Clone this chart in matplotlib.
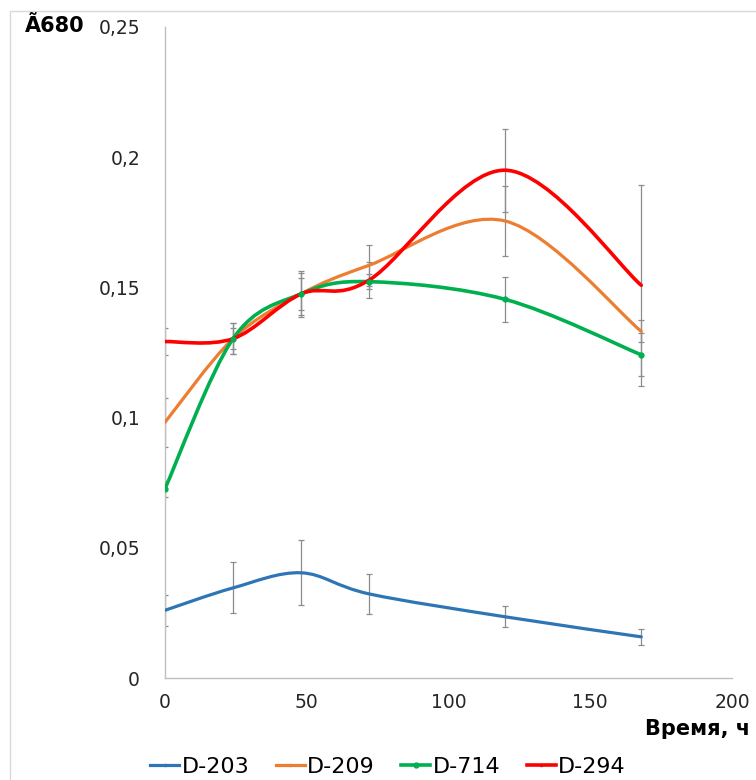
import numpy as np
import matplotlib.pyplot as plt
from matplotlib.path import Path
from matplotlib.patches import PathPatch, Rectangle
from matplotlib.lines import Line2D

hours = [0, 24, 48, 72, 120, 168]

d203 = [0.0260, 0.0346, 0.0404, 0.0323, 0.0235, 0.0158]
d203_err = [0.0060, 0.0098, 0.0125, 0.0077, 0.0040, 0.0030]

d209 = [0.0982, 0.1303, 0.1475, 0.1585, 0.1755, 0.1331]
d209_err = [0.0094, 0.0060, 0.0080, 0.0078, 0.0135, 0.0042]

d714 = [0.0727, 0.1303, 0.1475, 0.1522, 0.1454, 0.1241]
d714_err = [0.0030, 0.0040, 0.0060, 0.0030, 0.0087, 0.0082]

d294 = [0.1292, 0.1303, 0.1475, 0.1528, 0.1950, 0.1508]
d294_err = [0.0052, 0.0060, 0.0087, 0.0069, 0.0160, 0.0385]

names = ["D-203", "D-209", "D-714", "D-294"]
colors = ["#2E75B6", "#ED7D31", "#00B050", "#FF0000"]


def smooth_path(x, y):
    # excel-like smoothed line: bezier segments with catmull-rom control points
    x = np.asarray(x, float)
    y = np.asarray(y, float)
    n = len(x)
    verts = [(x[0], y[0])]
    codes = [Path.MOVETO]
    for i in range(n - 1):
        i0 = max(i - 1, 0)
        i3 = min(i + 2, n - 1)
        c1 = (x[i] + (x[i + 1] - x[i0]) / 6, y[i] + (y[i + 1] - y[i0]) / 6)
        c2 = (x[i + 1] - (x[i3] - x[i]) / 6, y[i + 1] - (y[i3] - y[i]) / 6)
        verts += [c1, c2, (x[i + 1], y[i + 1])]
        codes += [Path.CURVE4] * 3
    return Path(verts, codes)


fig = plt.figure(figsize=(7.56, 7.80), dpi=100)
fig.patches.append(Rectangle((10 / 756, -0.1), 1.2, 1.1 - 11 / 780, transform=fig.transFigure,
                             fill=False, edgecolor="#d9d9d9", lw=1))
ax = fig.add_axes([165 / 756, 1 - 678 / 780, 567 / 756, 651 / 780])

series = [(d203, d203_err), (d209, d209_err), (d714, d714_err), (d294, d294_err)]
lws = [2.3, 2.3, 2.6, 2.6]
msizes = [0, 0, 3.5, 0]
handles = []
for (vals, err), name, c, lw, ms in zip(series, names, colors, lws, msizes):
    ax.errorbar(hours, vals, yerr=err, fmt="none", ecolor="#8c8c8c", elinewidth=0.9,
                capsize=2.2, capthick=0.9, zorder=2)
    ax.add_patch(PathPatch(smooth_path(hours, vals), fill=False, edgecolor=c, lw=lw,
                           capstyle="round", zorder=3))
    if ms:
        ax.plot(hours, vals, ls="none", marker="o", ms=ms, color=c, zorder=4)
    handles.append(Line2D([], [], color=c, lw=lw, marker="o", ms=max(ms, 1.5)))

ax.set_xlim(0, 200)
ax.set_ylim(0, 0.25)
ax.set_xticks([0, 50, 100, 150, 200])
ax.set_yticks([0, 0.05, 0.1, 0.15, 0.2, 0.25])
ax.set_yticklabels(["0", "0,05", "0,1", "0,15", "0,2", "0,25"])
ax.tick_params(length=0, labelsize=13.5, colors="#262626")
ax.tick_params(axis="x", pad=11)
ax.tick_params(axis="y", pad=18)
for s in ["top", "right"]:
    ax.spines[s].set_visible(False)
for s in ["left", "bottom"]:
    ax.spines[s].set_color("#bfbfbf")
    ax.spines[s].set_linewidth(1)

fig.text(25 / 756, 1 - 26 / 780, "Ã680", fontsize=15, fontweight="bold", va="center", ha="left")
fig.text(645 / 756, 1 - 729 / 780, "Время, ч", fontsize=15, fontweight="bold", va="center", ha="left")

fig.legend(handles, names, loc="center", bbox_to_anchor=(388 / 756, 1 - 767 / 780), ncol=4,
           frameon=False, fontsize=16, handlelength=1.3, handletextpad=0.1, columnspacing=1.2,
           borderpad=0)

fig.savefig("out.png", dpi=100)
